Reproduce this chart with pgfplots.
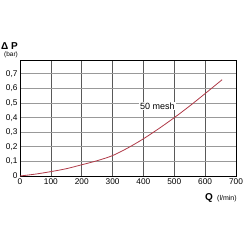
\documentclass[border=0pt]{standalone}
\usepackage{pgfplots}
\pgfplotsset{compat=1.18}
\usepackage{fontspec}
\setmainfont{Liberation Sans}
\definecolor{curve}{HTML}{B03A48}
\begin{document}
\begin{tikzpicture}[x=1pt,y=1pt]
\useasboundingbox (-20,-74) rectangle (230,176);
\begin{axis}[
  at={(0,0)}, anchor=south west,
  scale only axis, width=216pt, height=116pt,
  xmin=0, xmax=700, ymin=0, ymax=0.795,
  xtick={0,100,...,700}, ytick={0,0.1,...,0.7},
  yticklabels={0,{0,1},{0,2},{0,3},{0,4},{0,5},{0,6},{0,7}},
  xticklabels={0,100,200,300,400,500,600,700},
  tick style={draw=none},
  xmajorgrids, ymajorgrids,
  x grid style={draw=black!65, line width=0.6pt},
  y grid style={draw=black!40, line width=0.8pt},
  axis line style={black, line width=0.7pt},
  tick label style={font=\fontsize{8.3}{9}\selectfont},
  xticklabel style={yshift=1pt},
  yticklabel style={xshift=1pt},
  clip=false,
]
\addplot[curve, line width=0.8pt, smooth] coordinates {
(0,0) (50,0.013) (100,0.03) (150,0.05) (200,0.077) (250,0.105) (300,0.14) (350,0.193) (400,0.255) (450,0.325) (500,0.40) (550,0.48) (600,0.565) (655,0.66)
};
\node[font=\fontsize{9}{10}\selectfont, fill=white, inner sep=1pt] at (axis cs:445,0.48) {50 mesh};
\end{axis}
\node[anchor=west, font=\bfseries\fontsize{10}{11}\selectfont, inner sep=0pt] at (-19,130) {Δ P};
\node[font=\fontsize{6.5}{7}\selectfont, inner sep=0pt] at (-9,121) {(bar)};
\node[anchor=base west, font=\bfseries\fontsize{10}{11}\selectfont, inner sep=0pt] at (185,-24) {Q};
\node[anchor=base west, font=\fontsize{7}{8}\selectfont, inner sep=0pt] at (197,-24) {(l/min)};
\end{tikzpicture}
\end{document}
